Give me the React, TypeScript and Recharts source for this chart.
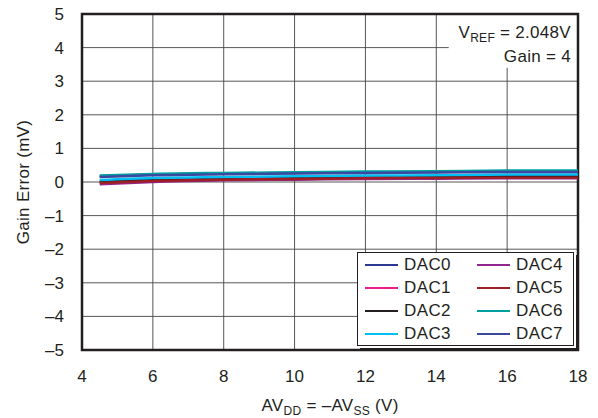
import React from "react";
import {
  LineChart,
  Line,
  XAxis,
  YAxis,
  CartesianGrid,
  ReferenceArea,
} from "recharts";

const supply = [4.5, 6, 8, 10, 12, 14, 16, 18];
const dac0 = [0.17, 0.22, 0.25, 0.27, 0.29, 0.3, 0.32, 0.32];
const dac1 = [0.02, 0.08, 0.11, 0.13, 0.15, 0.16, 0.18, 0.18];
const dac2 = [0.0, 0.06, 0.09, 0.11, 0.13, 0.14, 0.16, 0.16];
const dac3 = [0.06, 0.12, 0.15, 0.17, 0.19, 0.2, 0.22, 0.22];
const dac4 = [-0.07, 0.0, 0.05, 0.07, 0.09, 0.1, 0.11, 0.11];
const dac5 = [-0.03, 0.03, 0.07, 0.09, 0.11, 0.12, 0.13, 0.13];
const dac6 = [0.19, 0.24, 0.27, 0.29, 0.31, 0.32, 0.34, 0.34];
const dac7 = [0.15, 0.2, 0.23, 0.25, 0.27, 0.28, 0.3, 0.3];

const xTicks = [4, 6, 8, 10, 12, 14, 16, 18];
const yTicks = [-5, -4, -3, -2, -1, 0, 1, 2, 3, 4, 5];

const series = [
  { key: "DAC0", values: dac0, color: "#2B3990" },
  { key: "DAC1", values: dac1, color: "#EC1C8C" },
  { key: "DAC2", values: dac2, color: "#231F20" },
  { key: "DAC3", values: dac3, color: "#00BFF3" },
  { key: "DAC4", values: dac4, color: "#92278F" },
  { key: "DAC5", values: dac5, color: "#9E1F24" },
  { key: "DAC6", values: dac6, color: "#00A0A0" },
  { key: "DAC7", values: dac7, color: "#3C48A0" },
];

const data = supply.map((x, i) => {
  const row: Record<string, number> = { x };
  series.forEach((s) => (row[s.key] = s.values[i]));
  return row;
});

const FONT = "'Liberation Sans', Arial, sans-serif";
const FS = 17;
const INK = "#231F20";
const fmt = (v: number) => (v < 0 ? `–${Math.abs(v)}` : `${v}`);

function LegendBox() {
  const order = ["DAC0", "DAC4", "DAC1", "DAC5", "DAC2", "DAC6", "DAC3", "DAC7"];
  return (
    <div
      style={{
        position: "absolute",
        left: 357,
        top: 252,
        width: 217,
        height: 94,
        border: `1px solid ${INK}`,
        background: "#fff",
        boxShadow: `2px 2px 0 0 #fff, 3px 3px 0 0 ${INK}`,
        display: "grid",
        gridTemplateColumns: "112px 103px",
        gridAutoRows: "23px",
        fontFamily: FONT,
        fontSize: FS,
        letterSpacing: 0.4,
        color: INK,
        boxSizing: "border-box",
      }}
    >
      {order.map((k) => {
        const s = series.find((d) => d.key === k)!;
        return (
          <div key={k} style={{ display: "flex", alignItems: "center", paddingLeft: 7 }}>
            <span
              style={{
                display: "inline-block",
                width: 33,
                height: 2,
                background: s.color,
                marginRight: 6,
              }}
            />
            {k}
          </div>
        );
      })}
    </div>
  );
}

function XLabel(props: any) {
  const vb = props.viewBox;
  return (
    <text
      x={vb.x + vb.width / 2}
      y={vb.y + 61}
      textAnchor="middle"
      fontFamily={FONT}
      fontSize={FS}
      letterSpacing={0.3}
      fill={INK}
    >
      <tspan>AV</tspan>
      <tspan dy={4} fontSize={12}>DD</tspan>
      <tspan dy={-4}> = –AV</tspan>
      <tspan dy={4} fontSize={12}>SS</tspan>
      <tspan dy={-4}> (V)</tspan>
    </text>
  );
}

function YLabel(props: any) {
  const vb = props.viewBox;
  const cx = 29;
  const cy = vb.y + vb.height / 2;
  return (
    <text
      x={cx}
      y={cy}
      transform={`rotate(-90 ${cx} ${cy})`}
      textAnchor="middle"
      fontFamily={FONT}
      fontSize={FS}
      letterSpacing={0.3}
      fill={INK}
    >
      Gain Error (mV)
    </text>
  );
}

function Note(props: any) {
  const vb = props.viewBox;
  const right = vb.x + vb.width - 7;
  return (
    <text textAnchor="end" fontFamily={FONT} fontSize={FS} letterSpacing={0.3} fill={INK}>
      <tspan x={right} y={vb.y + 24}>
        V<tspan dy={4} fontSize={12}>REF</tspan>
        <tspan dy={-4}> = 2.048V</tspan>
      </tspan>
      <tspan x={right} y={vb.y + 48}>Gain = 4</tspan>
    </text>
  );
}

export default function App() {
  return (
    <div style={{ position: "absolute", left: 0, top: 0, width: 598, height: 418, background: "#fff" }}>
      <LineChart
        width={598}
        height={418}
        data={data}
        margin={{ top: 14, right: 20, left: 0, bottom: 0 }}
      >
        <CartesianGrid stroke="#444" strokeWidth={0.9} />
        <XAxis
          dataKey="x"
          type="number"
          domain={[4, 18]}
          ticks={xTicks}
          height={68}
          tickLine={false}
          axisLine={false}
          tickMargin={14}
          tick={{ fontFamily: FONT, fontSize: FS, fill: INK }}
          label={{ content: XLabel }}
        />
        <YAxis
          type="number"
          domain={[-5, 5]}
          ticks={yTicks}
          width={82}
          tickLine={false}
          axisLine={false}
          tickMargin={12}
          tickFormatter={fmt}
          tick={{ fontFamily: FONT, fontSize: FS, fill: INK }}
          label={{ content: YLabel }}
        />
        <ReferenceArea
          x1={14.35}
          x2={18}
          y1={3.4}
          y2={5}
          fill="#fff"
          fillOpacity={1}
          stroke="none"
          label={{ content: Note }}
        />
        {series.map((s) => (
          <Line
            key={s.key}
            dataKey={s.key}
            type="monotone"
            stroke={s.color}
            strokeWidth={2.5}
            dot={false}
            isAnimationActive={false}
          />
        ))}
        <ReferenceArea
          x1={4}
          x2={18}
          y1={-5}
          y2={5}
          fill="none"
          stroke={INK}
          strokeWidth={2.5}
        />
      </LineChart>
      <LegendBox />
    </div>
  );
}
